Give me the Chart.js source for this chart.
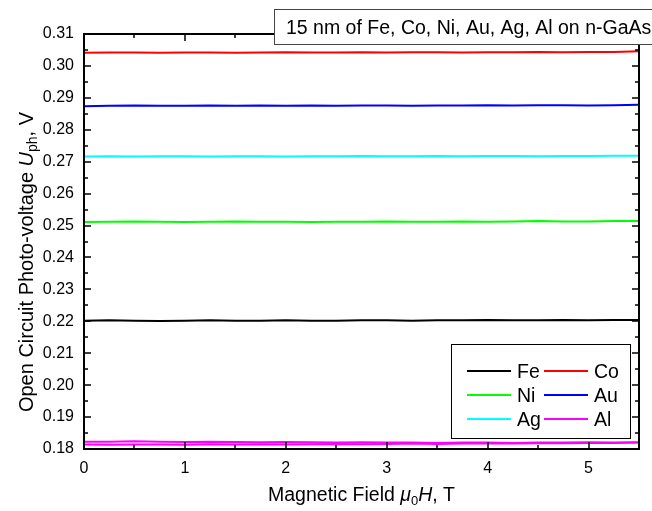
<!DOCTYPE html>
<html>
<head>
<meta charset="utf-8">
<script src="https://cdn.jsdelivr.net/npm/chart.js@4/dist/chart.umd.min.js"></script>
<style>
  body { margin: 0; background: #fff; }
  canvas { display: block; }
</style>
</head>
<body>
<canvas id="myChart" width="652" height="511"></canvas>
<script>
//  magnetic field, T
const field  = [0, 0.25, 0.5, 0.75, 1, 1.25, 1.5, 1.75, 2, 2.25, 2.5, 2.75, 3, 3.25, 3.5, 3.75, 4, 4.25, 4.5, 4.75, 5, 5.25, 5.5];

//  photo-voltage, V
const fe     = [0.2202,0.2203,0.2202,0.2201,0.2202,0.2203,0.2202,0.2202,0.2203,0.2202,0.2202,0.2203,0.2203,0.2202,0.2203,0.2203,0.2204,0.2203,0.2203,0.2204,0.2203,0.2204,0.2204];
const co     = [0.3041,0.3042,0.3042,0.3041,0.3042,0.3042,0.3041,0.3042,0.3043,0.3042,0.3042,0.3043,0.3042,0.3043,0.3043,0.3042,0.3043,0.3043,0.3044,0.3043,0.3044,0.3044,0.3046];
const ni     = [0.2511,0.2512,0.2513,0.2512,0.2511,0.2512,0.2513,0.2512,0.2512,0.2511,0.2512,0.2512,0.2513,0.2512,0.2512,0.2513,0.2512,0.2513,0.2514,0.2513,0.2513,0.2514,0.2514];
const au     = [0.2874,0.2875,0.2876,0.2875,0.2875,0.2876,0.2875,0.2876,0.2875,0.2876,0.2875,0.2876,0.2876,0.2875,0.2876,0.2876,0.2877,0.2876,0.2877,0.2877,0.2876,0.2877,0.2878];
const ag     = [0.2716,0.2717,0.2716,0.2717,0.2717,0.2716,0.2717,0.2717,0.2716,0.2717,0.2717,0.2718,0.2717,0.2717,0.2718,0.2717,0.2718,0.2718,0.2717,0.2718,0.2718,0.2719,0.2719];
const alUp   = [0.1823,0.1823,0.1824,0.1823,0.1822,0.1823,0.1822,0.1821,0.1822,0.1821,0.1820,0.1821,0.1820,0.1820,0.1819,0.1820,0.1820,0.1819,0.1820,0.1820,0.1821,0.1820,0.1821];
const alDown = [0.1814,0.1813,0.1814,0.1814,0.1813,0.1815,0.1814,0.1815,0.1814,0.1815,0.1816,0.1815,0.1816,0.1817,0.1816,0.1817,0.1818,0.1817,0.1818,0.1818,0.1819,0.1819,0.1820];

//  axis ranges and labels
const xTicks = [0, 1, 2, 3, 4, 5];
const yTicks = [0.18, 0.19, 0.20, 0.21, 0.22, 0.23, 0.24, 0.25, 0.26, 0.27, 0.28, 0.29, 0.30, 0.31];
const titleText = "15 nm of Fe, Co, Ni, Au, Ag, Al on n-GaAs";

//  legend: labels and colours, two per row
const legendLabels  = ["Fe", "Co", "Ni", "Au", "Ag", "Al"];
const legendColours = ["#000000", "#ff0000", "#00ff00", "#0000ff", "#00ffff", "#ff00ff"];

const FONT = "'Liberation Sans', Arial, sans-serif";

function series(label, values, colour){
    return {
        label: label,
        data: values.map((v, i) => ({x: field[i], y: v})),
        borderColor: colour,
        borderWidth: 2,
        pointRadius: 0,
        fill: false
    };
}

const datasets = [
    series("Fe", fe,     legendColours[0]),
    series("Co", co,     legendColours[1]),
    series("Ni", ni,     legendColours[2]),
    series("Au", au,     legendColours[3]),
    series("Ag", ag,     legendColours[4]),
    series("Al", alUp,   legendColours[5]),
    series("Al", alDown, legendColours[5])
];

//  text pieces: [text, italic, subscript]
function drawRich(ctx, parts, cx, cy, size){
    const fontOf = p => (p[1] ? "italic " : "") + (p[2] ? Math.round(size*0.68) : size) + "px " + FONT;
    let total = 0;
    parts.forEach(p => { ctx.font = fontOf(p); total += ctx.measureText(p[0]).width; });
    let x = cx - total/2;
    ctx.textBaseline = "alphabetic";
    ctx.textAlign = "left";
    parts.forEach(p => {
        ctx.font = fontOf(p);
        ctx.fillText(p[0], x, cy + (p[2] ? 4 : 0));
        x += ctx.measureText(p[0]).width;
    });
}

//  frame, inward ticks, titles, legend and caption box
const decorations = {
    id: "decorations",
    afterDatasetsDraw(chart){
        const ctx = chart.ctx;
        const a = chart.chartArea;
        const xs = chart.scales.x, ys = chart.scales.y;
        ctx.save();
        ctx.strokeStyle = "#000";
        ctx.lineWidth = 2;
        ctx.strokeRect(a.left, a.top, a.right - a.left, a.bottom - a.top);

        ctx.lineWidth = 1.5;
        ctx.beginPath();
        for(let i = 0; i <= 11; i++){
            const px = Math.round(xs.getPixelForValue(i*0.5));
            const len = (i % 2 === 0) ? 7 : 4;
            ctx.moveTo(px, a.bottom); ctx.lineTo(px, a.bottom - len);
            ctx.moveTo(px, a.top);    ctx.lineTo(px, a.top + len);
        }
        for(let i = 0; i <= 26; i++){
            const py = Math.round(ys.getPixelForValue(0.18 + i*0.005));
            const len = (i % 2 === 0) ? 7 : 4;
            ctx.moveTo(a.left, py);  ctx.lineTo(a.left + len, py);
            ctx.moveTo(a.right, py); ctx.lineTo(a.right - len, py);
        }
        ctx.stroke();

        ctx.fillStyle = "#000";
        //  axis titles
        drawRich(ctx, [["Magnetic Field ", false, false], ["\u03bc", true, false], ["0", false, true], ["H", true, false], [", T", false, false]],
                 (a.left + a.right)/2, 501, 19.5);
        ctx.save();
        ctx.translate(33, 262);
        ctx.rotate(-Math.PI/2);
        drawRich(ctx, [["Open Circuit Photo-voltage ", false, false], ["U", true, false], ["ph", false, true], [", V", false, false]],
                 0, 0, 20);
        ctx.restore();

        //  caption box
        ctx.fillStyle = "#fff";
        ctx.fillRect(274, 9, 400, 36);
        ctx.strokeStyle = "#444";
        ctx.lineWidth = 1;
        ctx.strokeRect(274.5, 9.5, 400, 35);
        ctx.fillStyle = "#000";
        ctx.font = "19.5px " + FONT;
        ctx.textBaseline = "alphabetic";
        ctx.textAlign = "left";
        ctx.fillText(titleText, 286, 34);

        //  legend, two columns
        ctx.fillStyle = "#fff";
        ctx.fillRect(451, 344, 180, 95);
        ctx.strokeStyle = "#000";
        ctx.lineWidth = 1;
        ctx.strokeRect(451.5, 344.5, 179, 94);
        legendLabels.forEach((label, i) => {
            const col = i % 2, row = Math.floor(i/2);
            const y = 371 + row*24;
            const x0 = col ? 544 : 467;
            ctx.strokeStyle = legendColours[i];
            ctx.lineWidth = 2;
            ctx.beginPath();
            ctx.moveTo(x0, y); ctx.lineTo(x0 + 44, y);
            ctx.stroke();
            ctx.fillStyle = "#000";
            ctx.font = "19.5px " + FONT;
            ctx.textBaseline = "alphabetic";
            ctx.fillText(label, x0 + 50, y + 7);
        });
        ctx.restore();
    }
};

const config = {
    type: "line",
    data: { datasets: datasets },
    options: {
        responsive: false,
        animation: false,
        layout: { padding: { left: 0, top: 34, right: 13, bottom: 0 } },
        plugins: { legend: { display: false }, tooltip: { enabled: false } },
        scales: {
            x: {
                type: "linear",
                min: 0,
                max: 5.5,
                afterFit: s => { s.height = 62; },
                afterBuildTicks: s => { s.ticks = xTicks.map(v => ({value: v})); },
                grid: { display: false, drawTicks: false },
                border: { display: false },
                ticks: { padding: 10, color: "#000", font: { family: FONT, size: 16 } }
            },
            y: {
                min: 0.18,
                max: 0.31,
                afterFit: s => { s.width = 84; },
                afterBuildTicks: s => { s.ticks = yTicks.map(v => ({value: v})); },
                grid: { display: false, drawTicks: false },
                border: { display: false },
                ticks: { padding: 10, color: "#000", font: { family: FONT, size: 16 },
                         callback: v => v.toFixed(2) }
            }
        }
    },
    plugins: [decorations]
};

let myChart = new Chart(document.getElementById("myChart"), config);
</script>
</body>
</html>
